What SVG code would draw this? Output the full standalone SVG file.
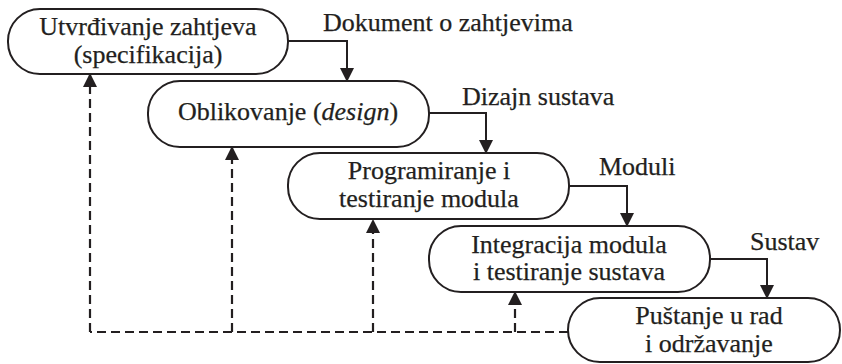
<svg xmlns="http://www.w3.org/2000/svg" width="842" height="364" viewBox="0 0 842 364">
<defs>
<style>
.box{fill:#fff;stroke:#231f20;stroke-width:2}
.t{font-family:"Liberation Serif","Times New Roman",serif;font-size:26px;fill:#231f20;stroke:#231f20;stroke-width:0.25}
.c{text-anchor:middle}
.ln{fill:none;stroke:#231f20;stroke-width:2}
.dash{fill:none;stroke:#231f20;stroke-width:2.2;stroke-dasharray:9 5}
</style>
<marker id="ah" markerUnits="userSpaceOnUse" markerWidth="14" markerHeight="16" refX="13" refY="7" orient="auto">
<path d="M0,0 L14,7 L0,14 Z" fill="#231f20"/>
</marker>
</defs>
<rect width="842" height="364" fill="#fff"/>
<g id="connectors">
<path class="ln" d="M288,41 H347 V81" marker-end="url(#ah)"/>
<path class="ln" d="M429,113 H486 V153" marker-end="url(#ah)"/>
<path class="ln" d="M569,186 H627 V226" marker-end="url(#ah)"/>
<path class="ln" d="M710,259 H767 V298" marker-end="url(#ah)"/>
<path class="dash" d="M568,332 H90"/>
<path class="dash" d="M90,332 V74" marker-end="url(#ah)"/>
<path class="dash" d="M232,332 V147" marker-end="url(#ah)"/>
<path class="dash" d="M373,332 V220" marker-end="url(#ah)"/>
<path class="dash" d="M515,332 V292" marker-end="url(#ah)"/>
<text class="t" x="323" y="31">Dokument o zahtjevima</text>
<text class="t" x="462" y="105">Dizajn sustava</text>
<text class="t" x="599" y="175">Moduli</text>
<text class="t" x="750" y="250">Sustav</text>
</g>
<g id="n1">
<rect class="box" x="8" y="9" width="280" height="65" rx="32"/>
<text class="t c" x="148" y="35">Utvrđivanje zahtjeva</text>
<text class="t c" x="148" y="63">(specifikacija)</text>
</g>
<g id="n2">
<rect class="box" x="148" y="81" width="281" height="66" rx="32"/>
<text class="t c" x="288" y="120">Oblikovanje (<tspan font-style="italic">design</tspan>)</text>
</g>
<g id="n3">
<rect class="box" x="288" y="153" width="281" height="66" rx="32"/>
<text class="t c" x="429" y="179">Programiranje i</text>
<text class="t c" x="429" y="207">testiranje modula</text>
</g>
<g id="n4">
<rect class="box" x="429" y="226" width="281" height="66" rx="32"/>
<text class="t c" x="569" y="253">Integracija modula</text>
<text class="t c" x="569" y="280">i testiranje sustava</text>
</g>
<g id="n5">
<rect class="box" x="568" y="298" width="272" height="64" rx="32"/>
<text class="t c" x="709" y="324">Puštanje u rad</text>
<text class="t c" x="709" y="352">i održavanje</text>
</g>
</svg>
